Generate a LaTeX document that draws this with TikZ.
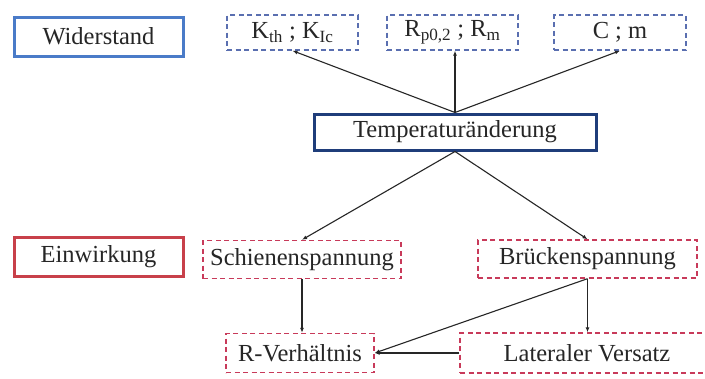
\documentclass[tikz,border=0pt]{standalone}
\usepackage{fontspec}
\setmainfont{Liberation Serif}
\usetikzlibrary{arrows.meta}
\definecolor{wblue}{HTML}{4A7BC8}
\definecolor{tblue}{HTML}{1F3D7A}
\definecolor{ered}{HTML}{C8404A}
\definecolor{dblue}{HTML}{5A6FB0}
\definecolor{dred}{HTML}{C83A5A}
\tikzset{
  base/.style={rectangle, inner sep=0pt, font=\fontsize{24.5}{28}\selectfont, text=black!85},
  solidbox/.style={base, line width=3pt},
  dashbox/.style={base, line width=1.4pt, dash pattern=on 5pt off 3.5pt},
  conn/.style={line width=1.1pt, black!85, -{Latex[length=5pt,width=4pt]}}
}
\begin{document}
\begin{tikzpicture}[x=1pt,y=-1pt]
\useasboundingbox (0,0) rectangle (705,378);
\clip (0,0) rectangle (705,378);
\fill[white] (0,0) rectangle (705,378);
% top row
\node[solidbox, draw=wblue, minimum width=169pt, minimum height=39pt] (wid) at (98.5,36.5) {Widerstand};
\node[dashbox, draw=dblue, minimum width=131pt, minimum height=35pt] (k) at (292.5,32.5) {K\textsubscript{th} ; K\textsubscript{Ic}};
\node[dashbox, draw=dblue, minimum width=131pt, minimum height=35pt] (r) at (452.5,32.5) {R\textsubscript{p0,2} ; R\textsubscript{m}};
\node[dashbox, draw=dblue, minimum width=132pt, minimum height=35pt] (c) at (620,32.5) {C ; m};
% middle
\node[solidbox, draw=tblue, minimum width=282pt, minimum height=36pt] (temp) at (455,132) {Temperaturänderung};
% bottom
\node[solidbox, draw=ered, minimum width=169pt, minimum height=39pt] (ein) at (98.5,257) {Einwirkung};
\node[dashbox, draw=dred, minimum width=198pt, minimum height=38pt] (sch) at (302,259.5) {Schienenspannung};
\node[dashbox, draw=dred, minimum width=219pt, minimum height=38pt] (bru) at (587.5,259) {Brückenspannung};
\node[dashbox, draw=dred, minimum width=148pt, minimum height=39pt] (rv) at (300,353) {R-Verhältnis};
\node[dashbox, draw=dred, minimum width=254pt, minimum height=40pt] (lat) at (587,353) {Lateraler Versatz};
% connectors
\draw[conn] (temp.north) -- (k.south);
\draw[conn] (temp.north) -- (temp.north |- r.south);
\draw[conn] (temp.north) -- (c.south);
\draw[conn] (temp.south) -- (sch.north);
\draw[conn] (temp.south) -- (bru.north);
\draw[conn] (sch.south) -- (sch.south |- rv.north);
\draw[conn] (bru.south) -- (bru.south |- lat.north);
\draw[conn] (bru.south) -- (rv.east);
\draw[conn] (lat.west) -- (rv.east);
\end{tikzpicture}
\end{document}
